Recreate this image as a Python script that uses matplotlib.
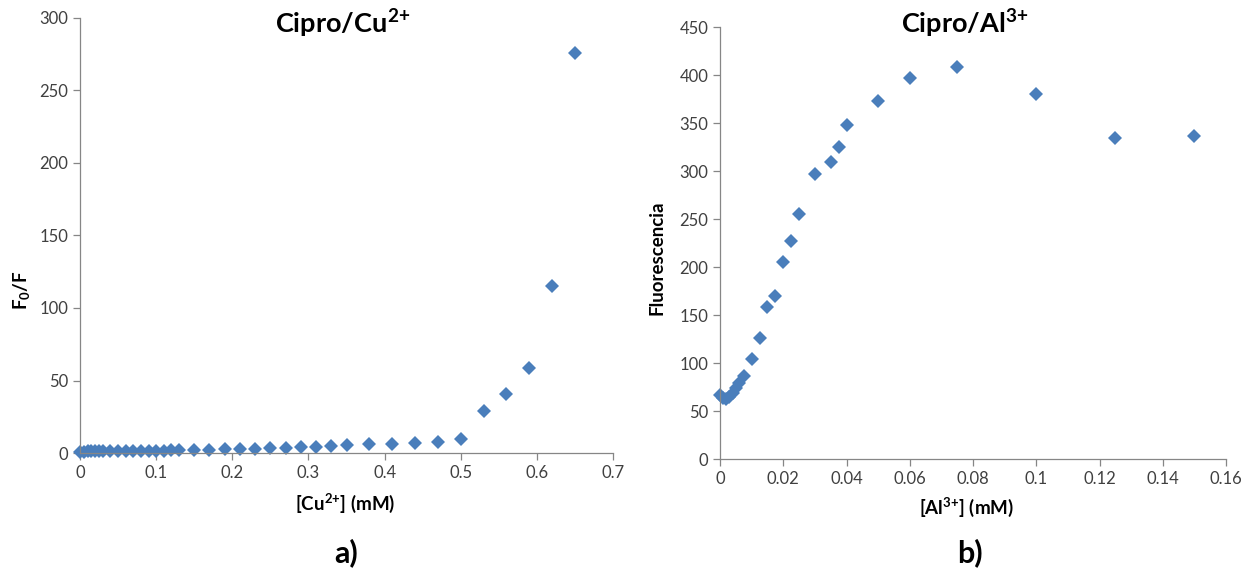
import matplotlib
matplotlib.use("Agg")
import matplotlib.pyplot as plt
from matplotlib.ticker import FuncFormatter, MultipleLocator

plt.rcParams['font.family'] = ['Lato', 'DejaVu Sans']
plt.rcParams['mathtext.default'] = 'regular'

# Cipro/Cu2+ data
cu_conc = [0, 0.005, 0.01, 0.015, 0.02, 0.025, 0.03, 0.04, 0.05, 0.06, 0.07, 0.08,
           0.09, 0.10, 0.11, 0.12, 0.13, 0.15, 0.17, 0.19, 0.21, 0.23, 0.25, 0.27,
           0.29, 0.31, 0.33, 0.35, 0.38, 0.41, 0.44, 0.47, 0.50, 0.53, 0.56, 0.59,
           0.62, 0.65]
cu_f0f = [1.0, 1.0, 1.05, 1.1, 1.1, 1.15, 1.2, 1.25, 1.3, 1.35, 1.4, 1.5,
          1.55, 1.6, 1.7, 1.8, 1.9, 2.1, 2.3, 2.5, 2.8, 3.0, 3.3, 3.6,
          3.9, 4.3, 4.8, 5.4, 6.3, 6.5, 6.8, 7.9, 10.0, 29.2, 40.6, 58.3,
          115.4, 276.0]

# Cipro/Al3+ data
al_conc = [0, 0.001, 0.002, 0.003, 0.004, 0.005, 0.006, 0.0075, 0.01, 0.0125,
           0.015, 0.0175, 0.02, 0.0225, 0.025, 0.03, 0.035, 0.0375, 0.04, 0.05,
           0.06, 0.075, 0.1, 0.125, 0.15]
al_fluor = [67, 64, 62, 65, 69, 74, 79, 86, 104, 126,
            158, 170, 205, 227, 255, 297, 309, 325, 348, 373,
            397, 408, 380, 334, 336]

W, H = 1249, 573
fig = plt.figure(figsize=(W / 100, H / 100), dpi=100)

blue = '#4A7EBB'
spine_c = '#868686'
text_c = '#404040'

def style(ax):
    for s in ['top', 'right']:
        ax.spines[s].set_visible(False)
    for s in ['left', 'bottom']:
        ax.spines[s].set_color(spine_c)
        ax.spines[s].set_linewidth(0.9)
    ax.tick_params(direction='out', length=5, width=0.9, color=spine_c,
                   labelsize=12, labelcolor=text_c)
    ax.xaxis.set_major_formatter(FuncFormatter(lambda v, p: f"{v:g}"))
    ax.yaxis.set_major_formatter(FuncFormatter(lambda v, p: f"{v:g}"))

def px_axes(x0, x1, ytop, ybot):
    return fig.add_axes([x0 / W, (H - ybot) / H, (x1 - x0) / W, (ybot - ytop) / H])

ax1 = px_axes(80, 613, 18, 453)
ax1.plot(cu_conc, cu_f0f, linestyle='none', marker='D', markersize=7.5,
         color=blue, markeredgewidth=0, clip_on=False)
ax1.set_xlim(0, 0.7)
ax1.set_ylim(0, 300)
ax1.xaxis.set_major_locator(MultipleLocator(0.1))
ax1.yaxis.set_major_locator(MultipleLocator(50))
style(ax1)

ax2 = px_axes(720, 1226, 27, 459)
ax2.plot(al_conc, al_fluor, linestyle='none', marker='D', markersize=7.5,
         color=blue, markeredgewidth=0, clip_on=False)
ax2.set_xlim(0, 0.16)
ax2.set_ylim(0, 450)
ax2.xaxis.set_major_locator(MultipleLocator(0.02))
ax2.yaxis.set_major_locator(MultipleLocator(50))
style(ax2)

def ftext(x, y, s, size, **kw):
    fig.text(x / W, 1 - y / H, s, fontsize=size, fontweight='bold',
             ha='center', va='center', color='black', **kw)

ftext(343, 24, r"Cipro/Cu$^{2{+}}$", 19.5)
ftext(965, 24, r"Cipro/Al$^{3{+}}$", 19.5)
ftext(345, 503, r"[Cu$^{2{+}}$] (mM)", 13.5)
ftext(966, 507, r"[Al$^{3{+}}$] (mM)", 13.5)
ftext(22, 290, r"F$_{0}$/F", 13.5, rotation=90)
ftext(657, 258, "Fluorescencia", 13.5, rotation=90)
ftext(346, 553, "a)", 22)
ftext(970, 553, "b)", 22)

fig.savefig("out.png", dpi=100)
